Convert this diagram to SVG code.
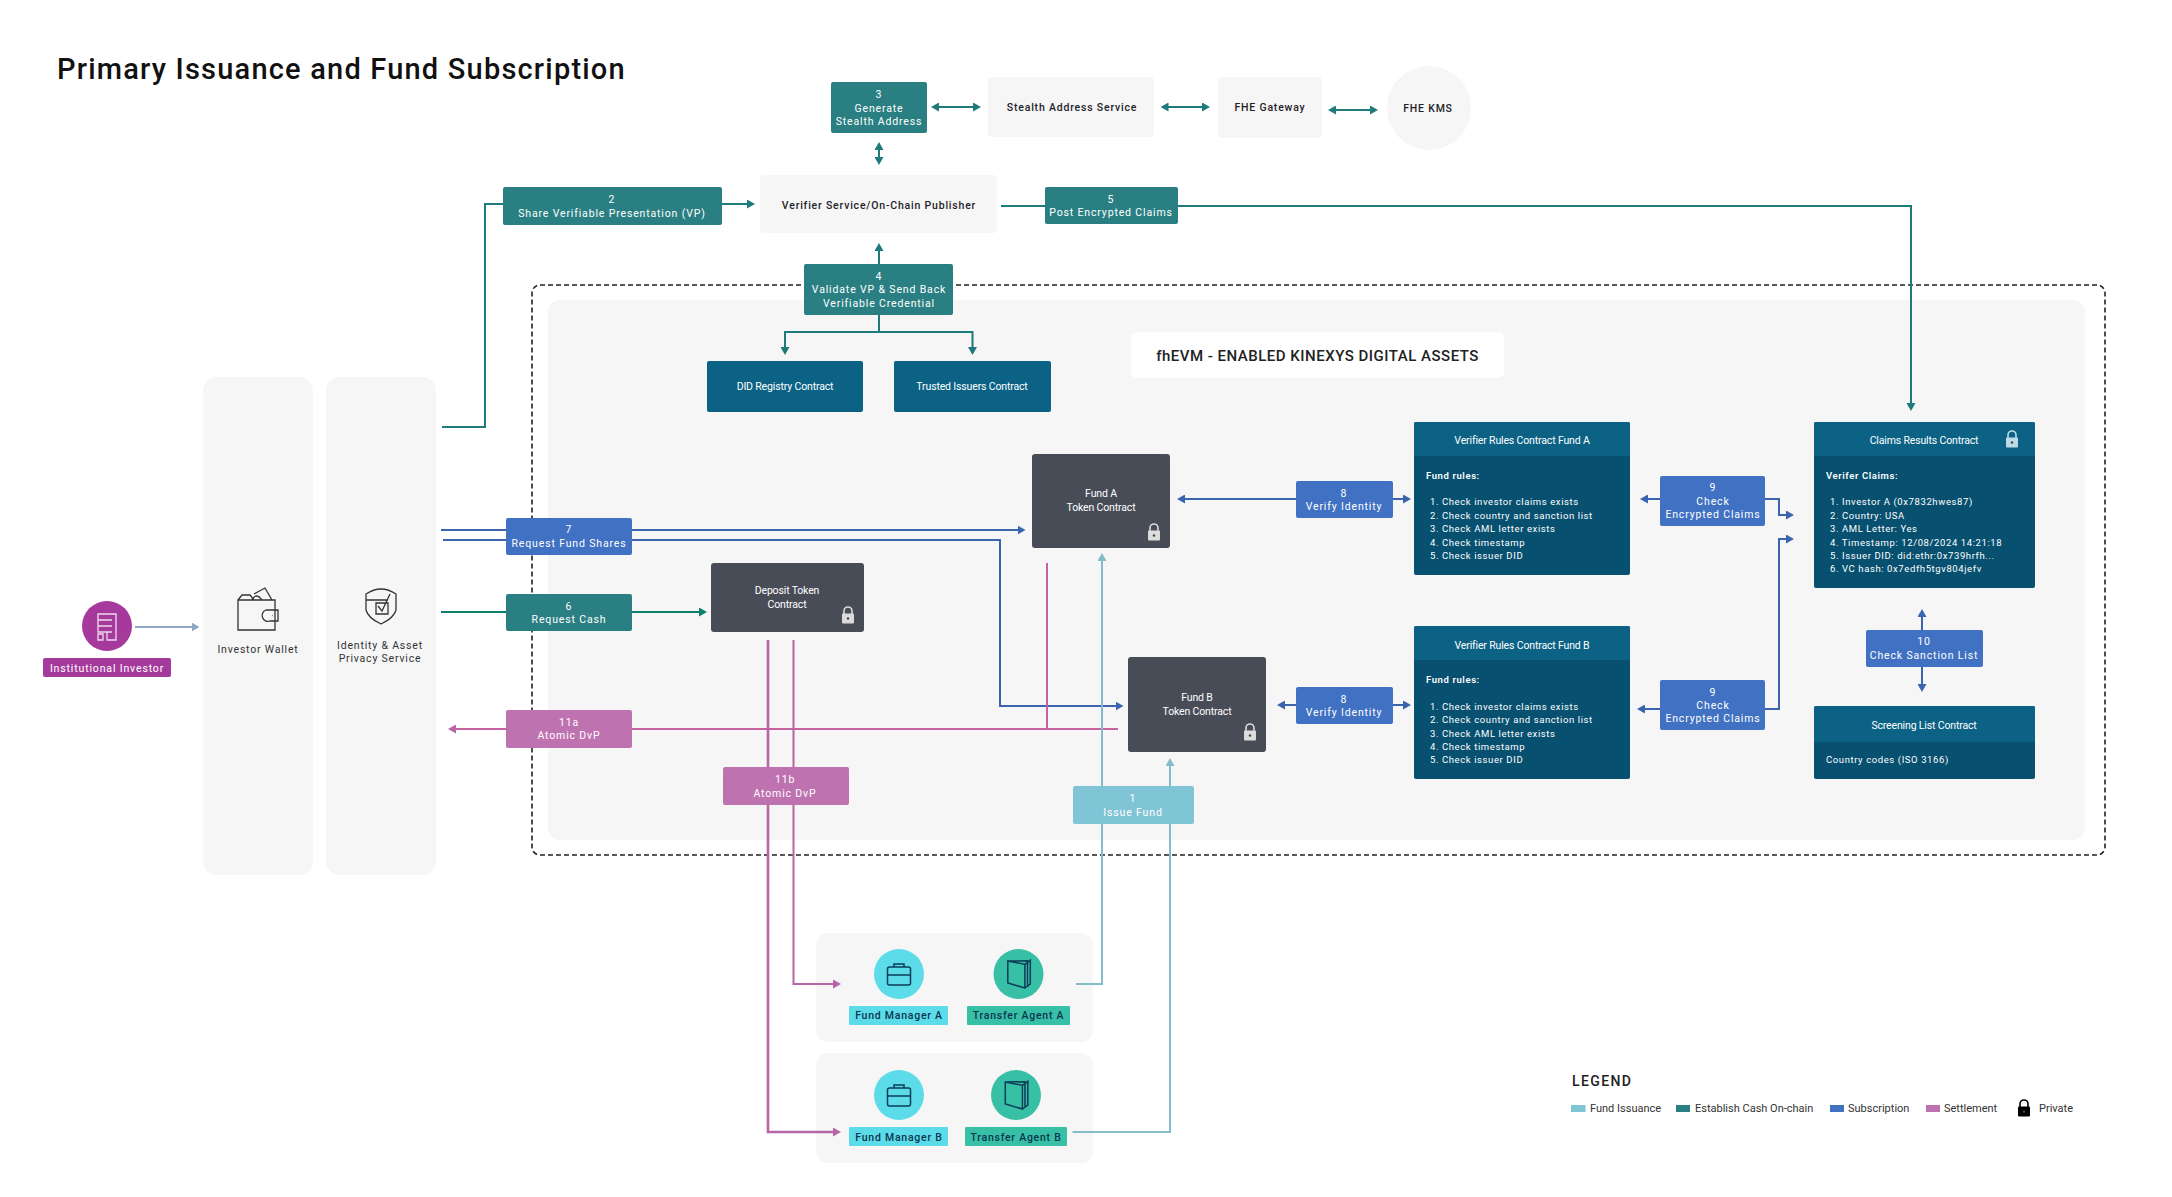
<svg xmlns="http://www.w3.org/2000/svg" width="2172" height="1197" viewBox="0 0 2172 1197">
<style>
text{font-family:Roboto,"Noto Sans",sans-serif;text-anchor:middle}
.l{fill:#fff;font-size:10.5px;letter-spacing:.85px}
.n{fill:#1f2328;font-size:10.5px;letter-spacing:.8px;font-weight:500}
.c{fill:#fff;font-size:10.5px;letter-spacing:-.15px}
.r{fill:#fff;font-size:9.5px;letter-spacing:.6px;text-anchor:start}
.rb{font-weight:600}
.a{fill:#0a3550;font-size:10.5px;letter-spacing:.75px;font-weight:500}
.lg{fill:#333;font-size:11px;text-anchor:start}
.panel{fill:#f6f6f7}
.teal{fill:#2a7f82}.blue{fill:#4171c2}.pink{fill:#bf72b0}.sky{fill:#80c5d6}
.dark{fill:#484c57}.hd{fill:#0b6285}.bd{fill:#07506f}
.ln{fill:none;stroke-width:2}
.lt{stroke:#1f7a7c}.lb{stroke:#3a64ad}.lp{stroke:#b765a6}.ls{stroke:#84bccb}
.ic{fill:none;stroke:#333;stroke-width:1.3}
.ik{fill:none;stroke:#0b3d58;stroke-width:1.5}
.iw{fill:none;stroke:#f1d9ee;stroke-width:1.3}
</style>
<defs>
<marker id="mt" markerUnits="userSpaceOnUse" markerWidth="8" markerHeight="9" refX="4" refY="4.5" orient="auto-start-reverse"><path d="M0,0L8,4.5L0,9Z" fill="#1f7a7c"/></marker>
<marker id="mg" markerUnits="userSpaceOnUse" markerWidth="8" markerHeight="9" refX="4" refY="4.5" orient="auto-start-reverse"><path d="M0,0L8,4.5L0,9Z" fill="#0e7f6b"/></marker>
<marker id="mb" markerUnits="userSpaceOnUse" markerWidth="8" markerHeight="9" refX="4" refY="4.5" orient="auto-start-reverse"><path d="M0,0L8,4.5L0,9Z" fill="#3a64ad"/></marker>
<marker id="mp" markerUnits="userSpaceOnUse" markerWidth="8" markerHeight="9" refX="4" refY="4.5" orient="auto-start-reverse"><path d="M0,0L8,4.5L0,9Z" fill="#b765a6"/></marker>
<marker id="ms" markerUnits="userSpaceOnUse" markerWidth="8" markerHeight="9" refX="4" refY="4.5" orient="auto-start-reverse"><path d="M0,0L8,4.5L0,9Z" fill="#84bccb"/></marker>
<marker id="mv" markerUnits="userSpaceOnUse" markerWidth="8" markerHeight="9" refX="4" refY="4.5" orient="auto-start-reverse"><path d="M0,0L8,4.5L0,9Z" fill="#8fa9c4"/></marker>
<symbol id="lock" viewBox="0 0 14 18" overflow="visible">
<path d="M3,8V5A4,4 0 0 1 11,5V8" fill="none" stroke="currentColor" stroke-width="1.6"/>
<rect x="1" y="7.5" width="12" height="10" rx="1" fill="currentColor"/>
<circle cx="7" cy="12.5" r="1.2" fill="#444"/>
</symbol>
<g id="case">
<rect x="-11.5" y="-7" width="23" height="18" rx="2" class="ik"/>
<path d="M-11.5,1H11.5M-5,-7V-10H5V-7" class="ik"/>
</g>
<g id="book">
<path d="M-10.7,-13L6.4,-9.7V14L-10.7,9ZM6.4,-9.7L11.8,-13.7V10L6.4,14M-10.7,-13L9,-13.2V11.5" class="ik"/>
</g>
</defs>

<rect width="2172" height="1197" fill="#fff"/>
<text id="title" x="57" y="79" style="text-anchor:start;font-size:29px;font-weight:500;letter-spacing:1.2px;fill:#111">Primary Issuance and Fund Subscription</text>

<g id="kinexys-boundary">
<rect x="532" y="285" width="1573" height="570" rx="8" fill="none" stroke="#222" stroke-width="1.6" stroke-dasharray="5 3"/>
<rect x="548" y="300" width="1537" height="540" rx="12" class="panel"/>
</g>
<g id="kinexys-title">
<rect x="1131" y="332" width="373" height="46" rx="6" fill="#fff"/>
<text x="1317.5" y="361" style="font-size:15px;font-weight:500;letter-spacing:.5px;fill:#222">fhEVM - ENABLED KINEXYS DIGITAL ASSETS</text>
</g>
<g id="group-a"><rect x="816" y="933" width="277" height="109" rx="12" class="panel"/></g>
<g id="group-b"><rect x="816" y="1053" width="277" height="110" rx="12" class="panel"/></g>

<g id="investor-wallet">
<rect x="203" y="377" width="110" height="498" rx="14" class="panel"/>
<path d="M238,600H275V630H238ZM238,600L242,595H250L254,600M252,600Q256,592 262,600M254,594L265,588L272,600" class="ic"/>
<path d="M266,610H278V621H270A5,5 0 0 1 266,610ZM272,615.5h.5" class="ic"/>
<text x="258" y="653" class="n" style="font-weight:400;fill:#333">Investor Wallet</text>
</g>
<g id="privacy-service">
<rect x="326" y="377" width="110" height="498" rx="14" class="panel"/>
<path d="M366,594Q381,584 396,594V610Q394,618 381,624Q368,618 366,610Z" class="ic"/>
<path d="M366,600H388M376,603H388V614H376ZM378,606L382,611L390,594" class="ic"/>
<text x="380" y="649" class="n" style="font-weight:400;fill:#333">Identity &amp; Asset</text>
<text x="380" y="662" class="n" style="font-weight:400;fill:#333">Privacy Service</text>
</g>

<g id="verifier-service"><rect x="760" y="175" width="237" height="58" rx="4" class="panel"/><text x="879" y="209" class="n">Verifier Service/On-Chain Publisher</text></g>
<g id="stealth-service"><rect x="988" y="77" width="166" height="60" rx="4" class="panel"/><text x="1072" y="111" class="n">Stealth Address Service</text></g>
<g id="fhe-gateway"><rect x="1218" y="77" width="104" height="61" rx="4" class="panel"/><text x="1270" y="111" class="n">FHE Gateway</text></g>
<g id="fhe-kms"><circle cx="1429" cy="108" r="42" class="panel"/><text x="1428" y="112" class="n">FHE KMS</text></g>

<g id="connectors">
<path class="ln" stroke="#8fa9c4" d="M135,627H195.5" marker-end="url(#mv)"/>
<path class="ln lt" d="M442,427H485V204H503M722,204H751" marker-end="url(#mt)"/>
<path class="ln lt" d="M935,107H977" marker-start="url(#mt)" marker-end="url(#mt)"/>
<path class="ln lt" d="M1164.5,107H1206" marker-start="url(#mt)" marker-end="url(#mt)"/>
<path class="ln lt" d="M1332,110H1374" marker-start="url(#mt)" marker-end="url(#mt)"/>
<path class="ln lt" d="M879,146V161" marker-start="url(#mt)" marker-end="url(#mt)"/>
<path class="ln lt" d="M1001,206H1911V407" marker-end="url(#mt)"/>
<path class="ln lt" d="M879,264V247" marker-end="url(#mt)"/>
<path class="ln lt" d="M879,315V332H785V351" marker-end="url(#mt)"/>
<path class="ln lt" d="M879,332H972.5V351" marker-end="url(#mt)"/>
<path class="ln lb" d="M441,530H1021.5" marker-end="url(#mb)"/>
<path class="ln lb" d="M443,540H1000V706H1119.5" marker-end="url(#mb)"/>
<path class="ln" stroke="#0e7f6b" d="M441,612H703" marker-end="url(#mg)"/>
<path class="ln" stroke="#c8619f" d="M1118,729H452" marker-end="url(#mp)"/>
<path class="ln" stroke="#c8619f" d="M1047,563V729"/>
<path class="ln lp" style="stroke-width:2.6" d="M768,640V1132H837" marker-end="url(#mp)"/>
<path class="ln lp" d="M793.5,640V984H837" marker-end="url(#mp)"/>
<path class="ln ls" d="M1076,984H1102V557" marker-end="url(#ms)"/>
<path class="ln ls" d="M1072.5,1132H1170V762" marker-end="url(#ms)"/>
<path class="ln lb" d="M1296,499H1181" marker-end="url(#mb)"/>
<path class="ln lb" d="M1392,499H1407" marker-end="url(#mb)"/>
<path class="ln lb" d="M1296,705H1281" marker-end="url(#mb)"/>
<path class="ln lb" d="M1392,705H1407" marker-end="url(#mb)"/>
<path class="ln lb" d="M1660,499H1644" marker-end="url(#mb)"/>
<path class="ln lb" d="M1660,709H1641" marker-end="url(#mb)"/>
<path class="ln lb" d="M1765,499H1779V515H1790" marker-end="url(#mb)"/>
<path class="ln lb" d="M1765,709H1779V539H1790" marker-end="url(#mb)"/>
<path class="ln lb" d="M1922,630V613" marker-end="url(#mb)"/>
<path class="ln lb" d="M1922,667V688" marker-end="url(#mb)"/>
</g>

<g id="step-2"><rect x="503" y="187" width="219" height="38" rx="2" class="teal"/><text x="612" y="203" class="l">2</text><text x="612" y="217" class="l">Share Verifiable Presentation (VP)</text></g>
<g id="step-3"><rect x="831" y="82" width="96" height="51" rx="2" class="teal"/><text x="879" y="98" class="l">3</text><text x="879" y="112" class="l">Generate</text><text x="879" y="125" class="l">Stealth Address</text></g>
<g id="step-4"><rect x="804" y="264" width="149" height="51" rx="2" class="teal"/><text x="879" y="280" class="l">4</text><text x="879" y="293" class="l">Validate VP &amp; Send Back</text><text x="879" y="307" class="l">Verifiable Credential</text></g>
<g id="step-5"><rect x="1045" y="187" width="133" height="37" rx="2" class="teal"/><text x="1111" y="203" class="l">5</text><text x="1111" y="216" class="l">Post Encrypted Claims</text></g>
<g id="step-6"><rect x="506" y="594" width="126" height="37" rx="2" class="teal"/><text x="569" y="610" class="l">6</text><text x="569" y="623" class="l">Request Cash</text></g>
<g id="step-7"><rect x="506" y="518" width="126" height="37" rx="2" class="blue"/><text x="569" y="533" class="l">7</text><text x="569" y="547" class="l">Request Fund Shares</text></g>
<g id="step-11a"><rect x="506" y="710" width="126" height="38" rx="2" class="pink"/><text x="569" y="726" class="l">11a</text><text x="569" y="739" class="l">Atomic DvP</text></g>
<g id="step-11b"><rect x="723" y="767" width="126" height="38" rx="2" class="pink"/><text x="785" y="783" class="l">11b</text><text x="785" y="797" class="l">Atomic DvP</text></g>
<g id="step-1"><rect x="1073" y="786" width="121" height="38" rx="2" class="sky"/><text x="1133" y="802" class="l">1</text><text x="1133" y="816" class="l">Issue Fund</text></g>
<g id="step-8a"><rect x="1296" y="481" width="97" height="37" rx="2" class="blue"/><text x="1344" y="497" class="l">8</text><text x="1344" y="510" class="l">Verify Identity</text></g>
<g id="step-8b"><rect x="1296" y="687" width="97" height="37" rx="2" class="blue"/><text x="1344" y="703" class="l">8</text><text x="1344" y="716" class="l">Verify Identity</text></g>
<g id="step-9a"><rect x="1660" y="476" width="105" height="50" rx="2" class="blue"/><text x="1713" y="491" class="l">9</text><text x="1713" y="505" class="l">Check</text><text x="1713" y="518" class="l">Encrypted Claims</text></g>
<g id="step-9b"><rect x="1660" y="680" width="105" height="50" rx="2" class="blue"/><text x="1713" y="696" class="l">9</text><text x="1713" y="709" class="l">Check</text><text x="1713" y="722" class="l">Encrypted Claims</text></g>
<g id="step-10"><rect x="1866" y="630" width="117" height="37" rx="2" class="blue"/><text x="1924" y="645" class="l">10</text><text x="1924" y="659" class="l">Check Sanction List</text></g>

<g id="did-registry"><rect x="707" y="361" width="156" height="51" rx="2" class="hd"/><text x="785" y="390" class="c">DID Registry Contract</text></g>
<g id="trusted-issuers"><rect x="894" y="361" width="157" height="51" rx="2" class="hd"/><text x="972" y="390" class="c">Trusted Issuers Contract</text></g>

<g id="deposit-token"><rect x="711" y="563" width="153" height="69" rx="3" class="dark"/><text x="787" y="594" class="c">Deposit Token</text><text x="787" y="608" class="c">Contract</text><use href="#lock" x="841" y="606" width="14" height="18" color="#dcdcdc"/></g>
<g id="fund-a-token"><rect x="1032" y="454" width="138" height="94" rx="3" class="dark"/><text x="1101" y="497" class="c">Fund A</text><text x="1101" y="511" class="c">Token Contract</text><use href="#lock" x="1147" y="523" width="14" height="18" color="#dcdcdc"/></g>
<g id="fund-b-token"><rect x="1128" y="657" width="138" height="95" rx="3" class="dark"/><text x="1197" y="701" class="c">Fund B</text><text x="1197" y="715" class="c">Token Contract</text><use href="#lock" x="1243" y="723" width="14" height="18" color="#dcdcdc"/></g>

<g id="rules-a">
<rect x="1414" y="422" width="216" height="153" rx="2" class="bd"/><path d="M1414,456V424a2,2 0 0 1 2,-2H1628a2,2 0 0 1 2,2V456Z" class="hd"/>
<text x="1522" y="444" class="c">Verifier Rules Contract Fund A</text>
<text x="1426" y="479" class="r rb">Fund rules:</text>
<text x="1430" y="505" class="r">1. Check investor claims exists</text><text x="1430" y="519" class="r">2. Check country and sanction list</text><text x="1430" y="532" class="r">3. Check AML letter exists</text><text x="1430" y="546" class="r">4. Check timestamp</text><text x="1430" y="559" class="r">5. Check issuer DID</text>
</g>
<g id="rules-b">
<rect x="1414" y="626" width="216" height="153" rx="2" class="bd"/><path d="M1414,660V628a2,2 0 0 1 2,-2H1628a2,2 0 0 1 2,2V660Z" class="hd"/>
<text x="1522" y="649" class="c">Verifier Rules Contract Fund B</text>
<text x="1426" y="683" class="r rb">Fund rules:</text>
<text x="1430" y="710" class="r">1. Check investor claims exists</text><text x="1430" y="723" class="r">2. Check country and sanction list</text><text x="1430" y="737" class="r">3. Check AML letter exists</text><text x="1430" y="750" class="r">4. Check timestamp</text><text x="1430" y="763" class="r">5. Check issuer DID</text>
</g>
<g id="claims-results">
<rect x="1814" y="422" width="221" height="166" rx="2" class="bd"/><path d="M1814,456V424a2,2 0 0 1 2,-2H2033a2,2 0 0 1 2,2V456Z" class="hd"/>
<text x="1924" y="444" class="c">Claims Results Contract</text>
<use href="#lock" x="2005" y="430" width="14" height="18" color="#bcdbe8"/>
<text x="1826" y="479" class="r rb">Verifer Claims:</text>
<text x="1830" y="505" class="r">1. Investor A (0x7832hwes87)</text><text x="1830" y="519" class="r">2. Country: USA</text><text x="1830" y="532" class="r">3. AML Letter: Yes</text><text x="1830" y="546" class="r">4. Timestamp: 12/08/2024 14:21:18</text><text x="1830" y="559" class="r">5. Issuer DID: did:ethr:0x739hrfh...</text><text x="1830" y="572" class="r">6. VC hash: 0x7edfh5tgv804jefv</text>
</g>
<g id="screening-list">
<rect x="1814" y="706" width="221" height="73" rx="2" class="bd"/><path d="M1814,742V708a2,2 0 0 1 2,-2H2033a2,2 0 0 1 2,2V742Z" class="hd"/>
<text x="1924" y="729" class="c">Screening List Contract</text>
<text x="1826" y="763" class="r">Country codes (ISO 3166)</text>
</g>

<g id="institutional-investor">
<circle cx="107" cy="626" r="25" fill="#a63a9c"/>
<path d="M98,614H116V640H107V632H98ZM98,620H112M98,626H112M98,632H112M103,640V634H98V640Z" class="iw"/>
<rect x="43" y="658" width="128" height="19" rx="2" fill="#a63a9c"/>
<text x="107" y="672" class="l">Institutional Investor</text>
</g>

<g id="fund-manager-a"><circle cx="899" cy="974" r="25" fill="#5cdce8"/><use href="#case" x="899" y="974"/><rect x="849" y="1006" width="99" height="19" rx="1" fill="#5cdce8"/><text x="899" y="1019" class="a">Fund Manager A</text></g>
<g id="transfer-agent-a"><circle cx="1018.5" cy="974" r="25" fill="#38c0a6"/><use href="#book" x="1018.5" y="974"/><rect x="967" y="1006" width="103" height="19" rx="1" fill="#38c0a6"/><text x="1018.5" y="1019" class="a">Transfer Agent A</text></g>
<g id="fund-manager-b"><circle cx="899" cy="1095" r="25" fill="#5cdce8"/><use href="#case" x="899" y="1095"/><rect x="849" y="1127" width="99" height="19" rx="1" fill="#5cdce8"/><text x="899" y="1141" class="a">Fund Manager B</text></g>
<g id="transfer-agent-b"><circle cx="1016" cy="1095" r="25" fill="#38c0a6"/><use href="#book" x="1016" y="1095"/><rect x="965" y="1127" width="102" height="19" rx="1" fill="#38c0a6"/><text x="1016" y="1141" class="a">Transfer Agent B</text></g>

<g id="legend">
<text x="1572" y="1086" style="text-anchor:start;font-size:14px;font-weight:500;letter-spacing:1.4px;fill:#222">LEGEND</text>
<rect x="1571" y="1105" width="14.5" height="7" class="sky"/><text x="1590" y="1112" class="lg">Fund Issuance</text>
<rect x="1676" y="1105" width="14" height="7" class="teal"/><text x="1695" y="1112" class="lg">Establish Cash On-chain</text>
<rect x="1830" y="1105" width="14" height="7" class="blue"/><text x="1848" y="1112" class="lg">Subscription</text>
<rect x="1926" y="1105" width="14" height="7" class="pink"/><text x="1944" y="1112" class="lg">Settlement</text>
<use href="#lock" x="2017" y="1099" width="14" height="18" color="#000"/>
<text x="2039" y="1112" class="lg">Private</text>
</g>
</svg>
